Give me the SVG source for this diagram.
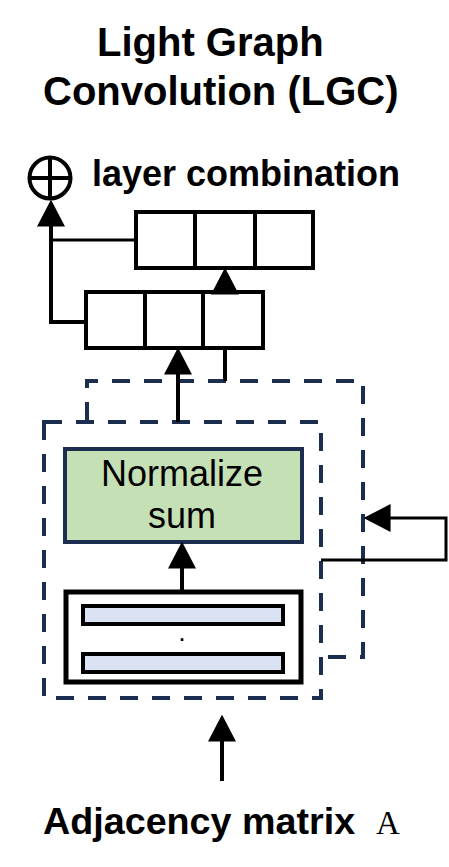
<svg xmlns="http://www.w3.org/2000/svg" width="449" height="867" viewBox="0 0 449 867">
<style>
.t{font-family:"Liberation Sans",Arial,sans-serif;fill:#000}
.b{font-weight:bold}
.cell{fill:#fff;stroke:#000;stroke-width:4}
.dash{fill:none;stroke:#1c2e50;stroke-width:4;stroke-dasharray:18 14}
.ln{fill:none;stroke:#000;stroke-width:4}
.thin{fill:none;stroke:#000;stroke-width:3}
</style>
<defs>
<marker id="ah" markerUnits="userSpaceOnUse" markerWidth="27" markerHeight="28" refX="16" refY="13.5" orient="auto" viewBox="0 0 26 27">
<path d="M0,0 L26,13.5 L0,27 z" fill="#000"/>
</marker>
</defs>
<rect width="449" height="867" fill="#fff"/>
<g id="title">
<text class="t b" x="97" y="56" font-size="40">Light Graph</text>
<text class="t b" x="43" y="105" font-size="40">Convolution (LGC)</text>
</g>
<g id="legend">
<circle cx="50" cy="178" r="20.5" fill="none" stroke="#000" stroke-width="4"/>
<path d="M50,157.5 V198.5 M29.5,178 H70.5" stroke="#000" stroke-width="4"/>
<text class="t b" x="92" y="186" font-size="36">layer combination</text>
</g>
<g id="outer-layer">
<path class="dash" d="M87,420 V381 H363 V657 H321"/>
</g>
<g id="inner-layer">
<rect class="dash" x="44" y="422" width="277" height="276"/>
</g>
<g id="top-embedding">
<rect class="cell" x="136" y="212" width="177" height="56"/>
<path d="M195,212 V268 M255,212 V268" stroke="#000" stroke-width="4"/>
</g>
<g id="bottom-embedding">
<rect class="cell" x="86" y="292" width="177" height="56"/>
<path d="M145,292 V348 M203,292 V348" stroke="#000" stroke-width="4"/>
</g>
<g id="normalize">
<rect x="65" y="449" width="237" height="93" fill="#c5e0b4" stroke="#1c2e50" stroke-width="4"/>
<text class="t" x="182" y="486" font-size="36" text-anchor="middle">Normalize</text>
<text class="t" x="182" y="528" font-size="36" text-anchor="middle">sum</text>
</g>
<g id="neighbors">
<rect x="66" y="592" width="235" height="90" fill="#fff" stroke="#000" stroke-width="5"/>
<rect x="83" y="606" width="200" height="18" fill="#dae3f3" stroke="#000" stroke-width="4"/>
<rect x="83" y="654" width="200" height="18" fill="#dae3f3" stroke="#000" stroke-width="4"/>
<text class="t b" x="182" y="641" font-size="18" text-anchor="middle">.</text>
</g>
<g id="input-label">
<text class="t b" x="43" y="834" font-size="37.7">Adjacency matrix</text>
<text x="376" y="834" font-size="33" font-family="'Liberation Serif','Times New Roman',serif">A</text>
</g>
<g id="connectors">
<path class="ln" d="M86,322 H51 V210" marker-end="url(#ah)"/>
<path class="thin" d="M136,240 H51"/>
<path class="ln" d="M225,292 V278" marker-end="url(#ah)"/>
<path class="ln" d="M225,348 V381"/>
<path class="ln" d="M178,422 V358" marker-end="url(#ah)"/>
<path class="ln" d="M182,592 V552" marker-end="url(#ah)"/>
<path class="thin" d="M321,560 H446 V518 H374" marker-end="url(#ah)"/>
<path class="ln" d="M222,781 V725" marker-end="url(#ah)"/>
</g>
</svg>
